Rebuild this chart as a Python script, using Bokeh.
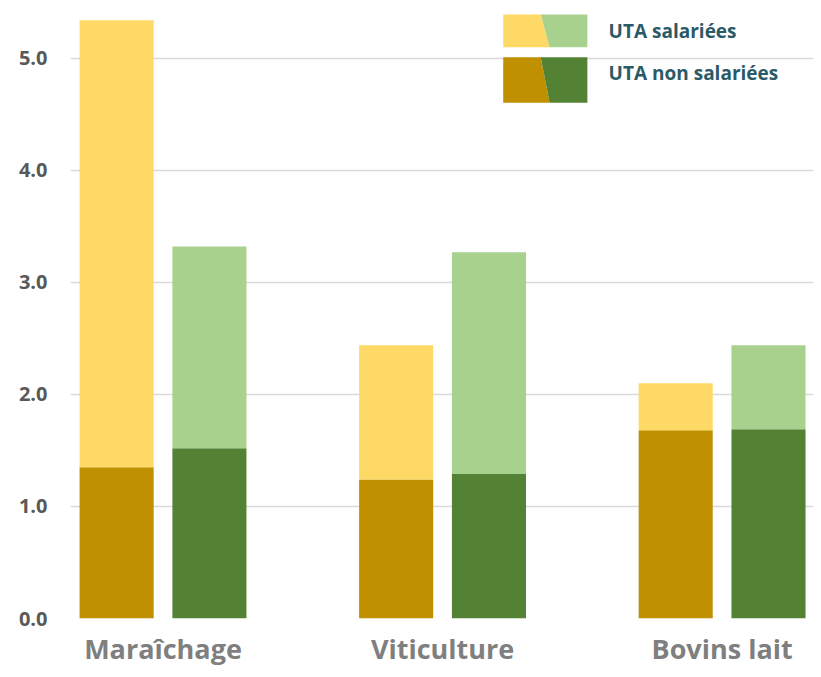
from bokeh.plotting import figure
from bokeh.models import FixedTicker, NumeralTickFormatter, Range1d
from bokeh.core.properties import value
from bokeh.embed import file_html
from bokeh.resources import INLINE

# ---------------- data ----------------
categories = ["Maraîchage", "Viticulture", "Bovins lait"]
# left bar of each group (gold tones)
left_non_salariees = [1.35, 1.24, 1.68]
left_salariees = [3.99, 1.20, 0.42]
# right bar of each group (green tones)
right_non_salariees = [1.52, 1.29, 1.69]
right_salariees = [1.80, 1.98, 0.75]
y_ticks = [0, 1, 2, 3, 4, 5]
legend_labels = ["UTA salariées", "UTA non salariées"]

# ---------------- style ----------------
gold_light, gold_dark = "#FFD966", "#BF9000"
green_light, green_dark = "#A9D18E", "#548235"
FONT = "Open Sans"
bar_w = 0.265
offset = 0.166

p = figure(width=813, height=669, output_backend="svg", toolbar_location=None,
           x_range=Range1d(-0.331, 2.327), y_range=Range1d(0, 5.4),
           min_border_left=70, min_border_right=0, min_border_top=13,
           min_border_bottom=51)
p.outline_line_color = None
p.background_fill_color = "white"
p.border_fill_color = "white"
p.xgrid.grid_line_color = None
p.ygrid.grid_line_color = "#D9D9D9"
p.ygrid.grid_line_width = 1.5

xs = list(range(len(categories)))
xl = [x - offset for x in xs]
xr = [x + offset for x in xs]
lt = [a + b for a, b in zip(left_non_salariees, left_salariees)]
rt = [a + b for a, b in zip(right_non_salariees, right_salariees)]

p.vbar(x=xl, width=bar_w, bottom=0, top=left_non_salariees, color=gold_dark, line_color=None)
p.vbar(x=xl, width=bar_w, bottom=left_non_salariees, top=lt, color=gold_light, line_color=None)
p.vbar(x=xr, width=bar_w, bottom=0, top=right_non_salariees, color=green_dark, line_color=None)
p.vbar(x=xr, width=bar_w, bottom=right_non_salariees, top=rt, color=green_light, line_color=None)

# axes
p.yaxis.ticker = FixedTicker(ticks=y_ticks)
p.yaxis.formatter = NumeralTickFormatter(format="0.0")
p.yaxis.axis_line_color = None
p.yaxis.major_tick_line_color = None
p.yaxis.minor_tick_line_color = None
p.yaxis.major_label_standoff = 17
p.yaxis.major_label_text_font = FONT
p.yaxis.major_label_text_font_style = "bold"
p.yaxis.major_label_text_font_size = "20px"
p.yaxis.major_label_text_color = "#595959"

p.xaxis.ticker = FixedTicker(ticks=xs)
p.xaxis.major_label_overrides = {i: c for i, c in enumerate(categories)}
p.xaxis.axis_line_color = None
p.xaxis.major_tick_line_color = None
p.xaxis.minor_tick_line_color = None
p.xaxis.major_tick_out = 0
p.xaxis.major_label_standoff = 11
p.xaxis.major_label_text_font = FONT
p.xaxis.major_label_text_font_style = "bold"
p.xaxis.major_label_text_font_size = "27px"
p.xaxis.major_label_text_color = "#7F7F7F"

# legend (custom two-colour swatches split by a slanted edge)
sx0, sx_top, sx_bot, sx1 = 1.217, 1.351, 1.383, 1.518
rows = [(5.39, 5.098), (5.009, 4.604)]
cols = [(gold_light, green_light), (gold_dark, green_dark)]
for (yt, yb), (cl, cr) in zip(rows, cols):
    p.patch([sx0, sx_top, sx_bot, sx0], [yt, yt, yb, yb], color=cl, line_color=None)
    p.patch([sx_top, sx1, sx1, sx_bot], [yt, yt, yb, yb], color=cr, line_color=None)
p.text(x=[1.594, 1.594], y=[5.247, 4.868], text=legend_labels,
       text_font=value(FONT), text_font_style="bold", text_font_size="19px",
       text_color="#2A5A67", text_baseline="middle", text_align="left")

open("out.html", "w").write(file_html(p, INLINE))
